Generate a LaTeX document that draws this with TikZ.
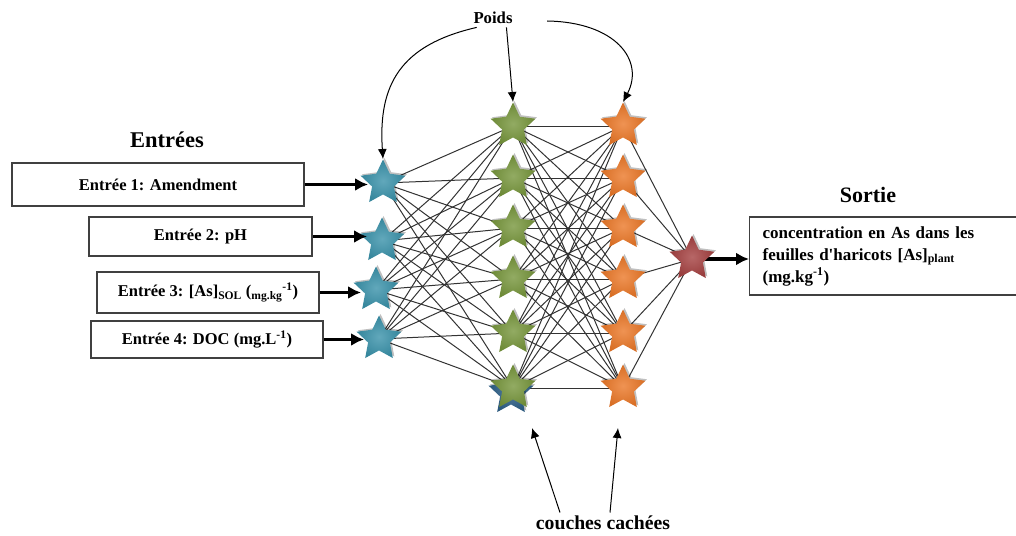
\documentclass[tikz,border=0pt]{standalone}
\usepackage{fontspec}
\newfontfamily\lib{Liberation Serif}
\usetikzlibrary{shapes.geometric,arrows.meta,backgrounds,calc,shadows}
\definecolor{sblue}{HTML}{3A92AA}
\definecolor{sgreen}{HTML}{77963C}
\definecolor{sorange}{HTML}{EB7828}
\definecolor{sred}{HTML}{A54141}
\definecolor{dblue}{HTML}{2D5F87}
\tikzset{
  every node/.style={font=\lib\bfseries},
  nstar/.style={star, star points=5, star point ratio=2.05, minimum size=47, inner sep=0,
    draw=none, shading=radial, inner color=#1!80!white, outer color=#1!92!black,
    drop shadow={shadow xshift=1.5, shadow yshift=-1.5, fill=black, opacity=0.25}},
  conn/.style={line width=1, draw=black!80},
  bigarrow/.style={line width=3.8, -{Latex[length=13,width=13]}},
  thinarrow/.style={line width=1, -{Latex[length=10,width=9]}},
  inbox/.style={draw=black!75, line width=1.2, rectangle, inner sep=0,
    font=\lib\bfseries\fontsize{16.5}{19}\selectfont},
}
\begin{document}
\begin{tikzpicture}[x=1pt,y=-1pt]
\useasboundingbox (0,0) rectangle (1016,535);
\clip (0,0) rectangle (1016,535);

% stars
\node[nstar=sblue] (I1) at (383,183) {};
\node[nstar=sblue] (I2) at (382,241) {};
\node[nstar=sblue] (I3) at (376,290) {};
\node[nstar=sblue] (I4) at (379,339) {};
\node[nstar=dblue] (Ab) at (511,393) {};
\foreach \i/\y in {1/126,2/178,3/228,4/279,5/333,6/388}{
  \node[nstar=sgreen] (A\i) at (513,\y) {};
  \node[nstar=sorange] (B\i) at (623,\y) {};
}
\node[nstar=sred] (O) at (692,259) {};

% connections
\begin{scope}[on background layer]
\foreach \i in {1,...,4}
  \foreach \j in {1,...,6}
    \draw[conn] (I\i.center) -- (A\j.center);
\foreach \i in {1,...,6}
  \foreach \j in {1,...,6}
    \draw[conn] (A\i.center) -- (B\j.center);
\foreach \j in {1,...,6}
  \draw[conn] (B\j.center) -- (O.center);
\end{scope}

% input boxes
\node[inbox, minimum width=292, minimum height=43] (b1) at (158,184.5) {Entrée 1: Amendment};
\node[inbox, minimum width=223, minimum height=39] (b2) at (200.5,236.5) {Entrée 2: pH};
\node[inbox, minimum width=222, minimum height=41] (b3) at (208,292.5)
  {Entrée 3: [As]\textsubscript{SOL} (\textsubscript{mg.kg}\textsuperscript{-1})};
\node[inbox, minimum width=232, minimum height=37] (b4) at (207,339.5) {Entrée 4: DOC (mg.L\textsuperscript{-1})};

\draw[bigarrow] (b1.east) -- (b1.east -| I1.west);
\draw[bigarrow] (b2.east) -- (b2.east -| I2.west);
\draw[bigarrow] (b3.east) -- (b3.east -| I3.west);
\draw[bigarrow] (b4.east) -- (b4.east -| I4.west);

% output box
\node[draw=black!75, line width=1.2, anchor=west, minimum height=78, text width=262,
  inner xsep=13, align=left, font=\lib\bfseries\fontsize{17}{22}\selectfont] (outbox) at (749,256)
  {concentration en As dans les\\ feuilles d'haricots [As]\textsubscript{plant}\\ (mg.kg\textsuperscript{-1})};
\begin{scope}[on background layer]
\draw[bigarrow] (O.center) -- (O.center -| outbox.west);
\end{scope}

% labels
\node[font=\lib\bfseries\fontsize{22.5}{26}\selectfont] (ent) at (167,140) {Entrées};
\node[font=\lib\bfseries\fontsize{22}{26}\selectfont] (sortie) at (868,195) {Sortie};
\node[font=\lib\bfseries\fontsize{16.7}{20}\selectfont] (poids) at (493,18) {Poids};
\node[font=\lib\bfseries\fontsize{19.7}{23}\selectfont] (cc) at (603,523) {couches cachées};

% weight arrows
\draw[thinarrow] (poids.210) .. controls (400,45) and (378,85) .. (I1.north);
\draw[thinarrow] (poids.-35) -- (A1.north);
\draw[thinarrow] ($(poids.east)+(31,3)$) .. controls (615,22) and (645,60) .. (B1.north);

% hidden-layer arrows
\coordinate (h1end) at (532,428);
\coordinate (h2end) at (618,428);
\draw[thinarrow] ($(cc.north)+(-43,0)$) -- (h1end);
\draw[thinarrow] ($(cc.north)+(7,0)$) -- (h2end);
\end{tikzpicture}
\end{document}
